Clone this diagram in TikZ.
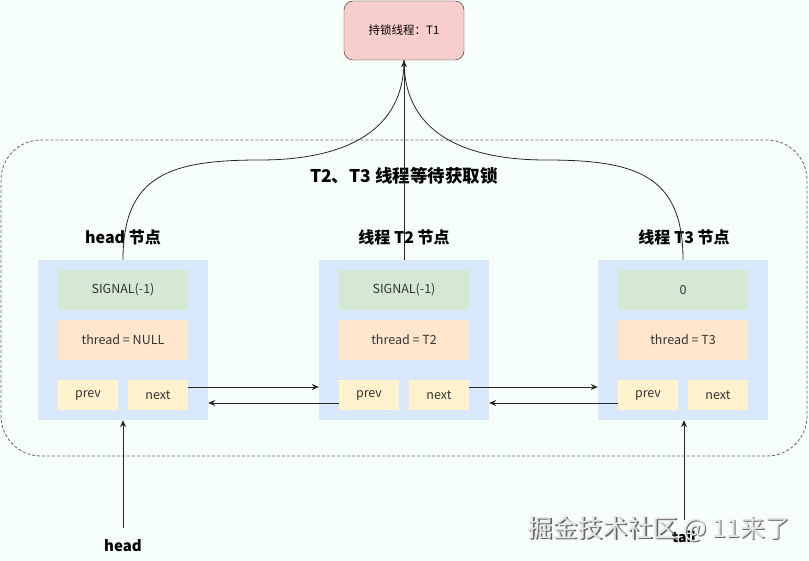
\documentclass[tikz,border=0pt]{standalone}
\usepackage{fontspec}
\setmainfont{Noto Sans CJK SC}
\usetikzlibrary{arrows.meta}
\definecolor{bgc}{RGB}{246,255,250}
\definecolor{nodeblue}{RGB}{218,232,252}
\definecolor{sgreen}{RGB}{213,232,212}
\definecolor{torange}{RGB}{255,230,204}
\definecolor{pyellow}{RGB}{255,242,204}
\definecolor{lockred}{RGB}{248,206,204}
\definecolor{linec}{RGB}{40,40,40}
\tikzset{
  qnode/.style={fill=nodeblue, inner sep=0pt, minimum width=170pt, minimum height=160pt},
  sig/.style={fill=sgreen, inner sep=0pt, minimum width=130pt, minimum height=40pt, font=\fontsize{12.5}{14}\selectfont, text=black!80},
  thr/.style={fill=torange, inner sep=0pt, minimum width=130pt, minimum height=40pt, font=\fontsize{12.5}{14}\selectfont, text=black!80},
  ptr/.style={fill=pyellow, inner sep=0pt, minimum width=60pt, minimum height=30pt, font=\fontsize{12.5}{14}\selectfont, text=black!80},
  lbl/.style={font=\fontsize{16}{18}\selectfont\bfseries},
  arr/.style={draw=linec, line width=0.8pt, -{Stealth[length=7pt,width=6pt]}},
  ln/.style={draw=linec, line width=0.8pt}
}
\begin{document}
\begin{tikzpicture}[x=1pt,y=-1pt]
\fill[bgc] (0,0) rectangle (809,561);
\useasboundingbox (0,0) rectangle (809,561);
% container
\draw[gray!80!black, dash pattern=on 3pt off 2pt, line width=0.8pt, rounded corners=40pt] (1,140) rectangle (807,456);
% lock box
\node[draw=linec, fill=lockred, rounded corners=9pt, minimum width=120pt, minimum height=59pt, inner sep=0pt, font=\fontsize{11.5}{13}\selectfont] (t1) at (404,30.5) {持锁线程：T1};
% title
\node[font=\fontsize{17.5}{20}\selectfont\bfseries] (title) at (404,176) {T2、T3 线程等待获取锁};
% labels
\node[lbl] (lh) at (123,237) {head 节点};
\node[lbl] (l2) at (404,237) {线程 T2 节点};
\node[lbl] (l3) at (684,237) {线程 T3 节点};
% nodes
\node[qnode] (hn) at (123,340) {};
\node[sig] (hs) at (123,290) {SIGNAL(-1)};
\node[thr] (ht) at (123,340) {thread = NULL};
\node[ptr] (hprev) at (88,395) {prev};
\node[ptr] (hnext) at (158,395) {next};

\node[qnode] (t2) at (404,340) {};
\node[sig] (t2s) at (404,290) {SIGNAL(-1)};
\node[thr] (t2t) at (404,340) {thread = T2};
\node[ptr] (t2prev) at (369,395) {prev};
\node[ptr] (t2next) at (439,395) {next};

\node[qnode] (t3) at (683,340) {};
\node[sig] (t3s) at (683,290) {0};
\node[thr] (t3t) at (683,340) {thread = T3};
\node[ptr] (t3prev) at (648,395) {prev};
\node[ptr] (t3next) at (718,395) {next};

% links
\coordinate (a1) at ([yshift=8pt]hnext.east);
\draw[arr] (a1) -- (a1 -| t2.west);
\coordinate (b1) at ([yshift=-8pt]t2prev.west);
\draw[arr] (b1) -- (b1 -| hn.east);
\coordinate (a2) at ([yshift=8pt]t2next.east);
\draw[arr] (a2) -- (a2 -| t3.west);
\coordinate (b2) at ([yshift=-8pt]t3prev.west);
\draw[arr] (b2) -- (b2 -| t2.east);

% curves to lock
\draw[ln] (hn.north) .. controls (123,175) and (170,160) .. (260,160) .. controls (330,160) and (404,140) .. (t1.south);
\draw[ln] (t3.north) .. controls (683,175) and (636,160) .. (546,160) .. controls (476,160) and (404,140) .. (t1.south);
\draw[arr] (t2.north) -- (t1.south);

% head / tail
\node[font=\fontsize{15}{17}\selectfont\bfseries] (headl) at (123,546) {head};
\draw[arr] (123,528) -- (hn.south);
\coordinate (tailtop) at (684,520);
\node[font=\fontsize{14}{16}\selectfont\bfseries] (taill) at (684,537) {tail};
\draw[arr] (tailtop) -- (t3.south -| tailtop);
% watermark (on top)
\node[font=\fontsize{25}{28}\selectfont, text=black!60] (wm0) at (660.3,530.3) {掘金技术社区 @ 11来了};
\node[font=\fontsize{25}{28}\selectfont, text=white!90!black] (wm) at (659,529) {掘金技术社区 @ 11来了};
\end{tikzpicture}
\end{document}
